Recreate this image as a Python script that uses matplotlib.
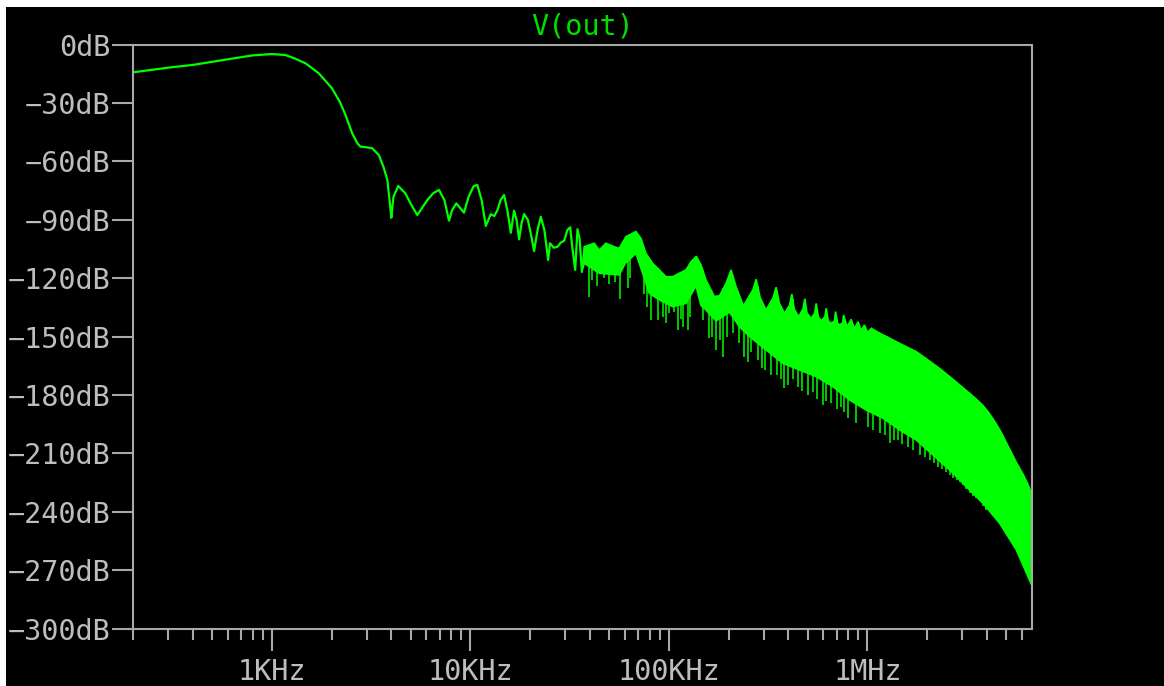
import numpy as np
import matplotlib.pyplot as plt
from matplotlib.patches import Rectangle
from matplotlib.ticker import FixedLocator, LogLocator, NullFormatter

plt.rcParams['font.family'] = ['DejaVu Sans Mono']

# clean low-frequency part of V(out) (Hz, dB)
lf_freq = [200, 300, 400, 600, 800, 1000, 1170, 1300, 1480, 1725, 2010, 2200, 2350,
           2540, 2700, 2800, 3000, 3200, 3460, 3650, 3820, 3950, 4000, 4100, 4335,
           4700, 5100, 5405, 5700, 6070, 6500, 6950, 7400, 7810, 8100, 8500, 8900,
           9290, 9800, 10400, 10840, 11400, 11960, 12670, 13200, 13700, 14200, 14790,
           15400, 15990, 16600, 17100, 17600, 18100, 18650, 19500, 20300, 20940,
           21800, 22630, 23600, 24650, 25200, 26300, 27480, 28500, 29700, 30800,
           31830, 32600, 33730, 34630, 35500, 36460]
lf_db = [-14.3, -11.9, -10.5, -7.6, -5.6, -4.9, -5.4, -7.1, -9.7, -14.8, -22.5, -29.4, -36.2,
         -45.6, -50.8, -52.5, -52.8, -53.3, -56.8, -62.8, -69.6, -83.3, -89.0, -78.2, -72.7,
         -76.4, -83.3, -87.6, -84.1, -79.9, -76.4, -74.7, -79.9, -90.5, -85.0, -81.6, -84.1,
         -86.4, -78.2, -72.7, -72.2, -79.9, -93.2, -87.2, -88.1, -85.0, -79.9, -77.3,
         -85.9, -96.7, -85.4, -90.2, -100.1, -91.9, -87.1, -90.2, -98.7, -106.1,
         -95.3, -88.5, -95.3, -110.7, -102.1, -104.4, -103.9, -101.8, -100.8, -95.3,
         -93.9, -104.0, -115.8, -94.9, -100.0, -116.7]

# noisy part: upper edge of the trace (Hz, dB)
top_freq = [36460, 37450, 42060, 44570, 48150, 53040, 56210, 60750, 68230, 72300, 76630,
            82780, 89440, 96650, 104400, 112800, 121900, 129200, 137500, 145100, 153800,
            169400, 180000, 194000, 205600, 217800, 237300, 265000, 274900, 288000,
            308700, 335000, 346700, 360000, 382000, 405000, 415900, 428000, 449300,
            473000, 483600, 496000, 520700, 542000, 551700, 566000, 584800, 610000,
            619600, 635000, 656800, 682000, 690600, 706000, 723400, 750000, 757800,
            790000, 828000, 860000, 897000, 930000, 966000, 1000000, 1045000, 1116000,
            1196000, 1268000, 1344000, 1500000, 1762000, 2000000, 2300000, 2594000,
            3148000, 3500000, 3820000, 4100000, 4459000, 4750000, 5008000, 5300000,
            5626000, 6077000, 6400000, 6700000]
top_db = [-116.7, -103.9, -102.1, -105.6, -102.1, -103.9, -104.7, -98.7, -96.1, -99.6, -107.3,
          -112.4, -115.8, -119.3, -119.3, -117.5, -115.8, -111.6, -108.8, -113.3, -121.0,
          -129.5, -129.0, -122.7, -115.8, -124.4, -134.3, -126.0, -120.6, -130.0,
          -136.4, -130.0, -124.7, -133.0, -138.1, -134.0, -128.2, -136.0, -139.8,
          -136.0, -130.6, -138.0, -140.7, -138.0, -133.0, -140.0, -141.9, -140.0,
          -135.5, -142.0, -143.2, -142.0, -137.2, -143.0, -144.1, -143.0, -139.0,
          -145.0, -141.2, -146.0, -142.4, -147.0, -144.1, -148.0, -145.8, -147.5,
          -149.2, -150.4, -151.8, -154.3, -157.8, -161.8, -166.3, -170.6,
          -177.8, -181.8, -185.5, -189.4, -195.0, -199.9, -204.6, -209.5,
          -214.8, -220.8, -225.5, -230.6]

# noisy part: lower edge of the dense band (Hz, dB)
bot_freq = [36460, 37450, 44570, 56210, 60300, 68230, 73710, 79620, 89440, 104400, 121900,
            136900, 145000, 153800, 172800, 201700, 226500, 254400, 308700, 374700,
            454600, 551700, 669500, 812400, 985800, 1196000, 1452000, 1762000, 2594000,
            3820000, 4636000, 5626000, 6700000]
bot_db = [-116.7, -112.4, -117.5, -118.4, -112.4, -107.3, -117.5, -127.8, -131.2, -134.7, -133.0,
          -124.0, -134.0, -136.4, -142.0, -137.5, -145.0, -150.0, -156.9, -163.8,
          -167.2, -170.6, -175.8, -182.6, -187.8, -192.0, -198.0, -203.2, -218.6,
          -235.7, -246.0, -259.7, -277.5]

# downward spikes below the band (Hz, dB)
spike_freq = [39380, 41000, 43500, 47000, 50000, 53500, 56650, 62000, 64000, 75000,
              78000, 81210, 87750, 93000, 97000, 100000, 106500, 110800, 115000, 118000,
              124300, 128000, 147900, 159900, 165000, 172800, 180000, 188100, 195000,
              209600, 224700, 240100, 250000, 260000, 280000, 295000, 305000, 327200,
              350000, 365000, 382000, 400000, 420000, 445900, 470000, 500000, 530700,
              560000, 596200, 620000, 656800, 700000, 737600, 760000, 796900, 877800,
              1005000, 1070000, 1151000, 1220000, 1293000, 1360000, 1424000, 1500000,
              1599000, 1700000, 1830000, 1950000, 2060000, 2170000, 2270000, 2380000,
              2500000, 2600000, 2700000, 2810000, 2910000, 3020000, 3150000, 3270000,
              3400000, 3540000, 3680000, 3820000, 3970000]
spike_db = [-129.7, -121.0, -124.0, -120.0, -123.0, -122.0, -130.9, -125.0, -120.0, -128.0,
            -135.0, -141.5, -141.5, -140.0, -143.0, -138.0, -137.2, -146.7, -141.0, -145.0,
            -146.7, -140.0, -141.5, -150.9, -150.0, -156.9, -152.0, -160.4, -150.0,
            -148.4, -153.5, -160.4, -163.0, -158.0, -162.0, -166.0, -167.0, -169.8,
            -170.0, -172.0, -176.6, -175.0, -172.0, -175.8, -178.0, -180.0, -178.3,
            -182.0, -185.2, -183.0, -184.3, -187.0, -186.0, -189.0, -192.0, -194.6,
            -196.3, -198.0, -199.7, -200.6, -204.9, -203.0, -203.2, -205.0,
            -206.6, -208.5, -210.9, -212.0, -213.4, -215.0, -216.9, -218.0,
            -219.4, -221.0, -222.5, -223.5, -224.6, -226.5, -228.5, -230.6,
            -232.0, -233.2, -234.0, -237.0, -239.1]

y_ticks = [0, -30, -60, -90, -120, -150, -180, -210, -240, -270, -300]
x_ticks = [1e3, 1e4, 1e5, 1e6]
x_labels = ["1KHz", "10KHz", "100KHz", "1MHz"]

GREEN = '#00ff00'
GRAY = '#a8a8a8'
TEXT = '#bdbdbd'

fig = plt.figure(figsize=(11.64, 6.86), dpi=100)
fig.patch.set_facecolor('white')
fig.patches.append(Rectangle((6 / 1164, 0), 1, 679 / 686, transform=fig.transFigure,
                             facecolor='black', edgecolor='none', zorder=-10))

ax = fig.add_axes([133 / 1164, 57.5 / 686, 898.5 / 1164, 584 / 686])
ax.set_facecolor('black')

ax.plot(lf_freq, lf_db, color=GREEN, lw=1.6, solid_joinstyle='round')
ax.fill(top_freq + bot_freq[::-1], top_db + bot_db[::-1], color=GREEN, lw=1.2, ec=GREEN)
spike_top = np.interp(np.log10(spike_freq), np.log10(top_freq), top_db)
ax.vlines(spike_freq, spike_db, spike_top, color=GREEN, lw=1.1)

ax.set_xscale('log')
ax.set_xlim(200, 6.7e6)
ax.set_ylim(-300, 0)

ax.xaxis.set_major_locator(FixedLocator(x_ticks))
ax.set_xticklabels(x_labels)
ax.xaxis.set_minor_locator(LogLocator(base=10, subs=range(2, 10)))
ax.xaxis.set_minor_formatter(NullFormatter())
ax.set_yticks(y_ticks)
ax.set_yticklabels([("\u2212%ddB" % -v) if v else "0dB" for v in y_ticks])

for s in ax.spines.values():
    s.set_color(GRAY)
    s.set_linewidth(1.5)
ax.tick_params(axis='y', which='major', length=15, width=1.5, color=GRAY,
               labelcolor=TEXT, labelsize=20.5, pad=1)
ax.tick_params(axis='x', which='major', length=16, width=1.5, color=GRAY,
               labelcolor=TEXT, labelsize=20.5, pad=5)
ax.tick_params(axis='x', which='minor', length=8, width=1.5, color=GRAY)

ax.set_title("V(out)", color='#00dd00', fontsize=20.5, pad=7)

fig.savefig("out.png", dpi=100, facecolor=fig.get_facecolor())
